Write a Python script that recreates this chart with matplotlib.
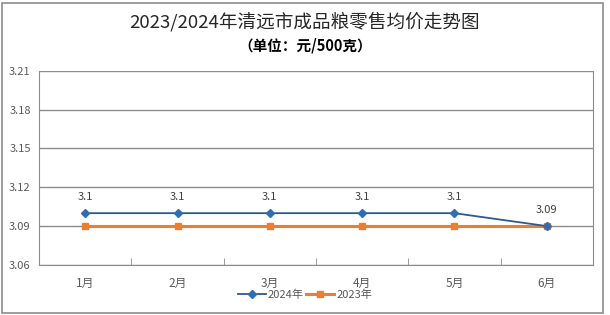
import matplotlib.pyplot as plt
from matplotlib.patches import Rectangle

plt.rcParams['font.family'] = ['Noto Sans CJK SC', 'DejaVu Sans']

months = ['1月', '2月', '3月', '4月', '5月', '6月']
price_2024 = [3.10, 3.10, 3.10, 3.10, 3.10, 3.09]
price_2023 = [3.09, 3.09, 3.09, 3.09, 3.09, 3.09]
yticks = [3.06, 3.09, 3.12, 3.15, 3.18, 3.21]

fig = plt.figure(figsize=(6.1, 3.15), dpi=100)
fig.patches.append(Rectangle((0.004, 0.006), 0.984, 0.986, transform=fig.transFigure,
                             fill=False, edgecolor='#8c8c8c', linewidth=1.2))
ax = fig.add_axes([0.064, 0.159, 0.908, 0.616])

x = list(range(len(months)))
ax.plot(x, price_2023, color='#ED7D31', linewidth=2.2, marker='s', markersize=5,
        label='2023年', zorder=2)
ax.plot(x, price_2024, color='#2A5A8E', linewidth=1.3, marker='D', markersize=4.5,
        markerfacecolor='#2F6EB5', markeredgecolor='#2F6EB5', label='2024年', zorder=3)

for i, v in enumerate(price_2024):
    ax.annotate(f'{v:g}', (i, v), xytext=(0, 8), textcoords='offset points',
                ha='center', va='bottom', fontsize=8, color='#404040')

ax.set_xlim(-0.5, len(months) - 0.5)
ax.set_ylim(3.06, 3.21)
ax.set_yticks(yticks)
ax.set_yticklabels([f'{t:.2f}' for t in yticks], fontsize=8, color='#595959')
ax.set_xticks(x)
ax.set_xticklabels(months, fontsize=8.5, color='#595959')
ax.tick_params(axis='x', length=0, pad=9)
ax.tick_params(axis='y', length=0, pad=6)
ax.set_xticks([i + 0.5 for i in range(len(months) - 1)], minor=True)
ax.tick_params(axis='x', which='minor', direction='in', length=5, color='#8c8c8c')
ax.grid(axis='y', color='#8c8c8c', linewidth=1)
ax.set_axisbelow(True)
for s in ['left', 'right', 'bottom']:
    ax.spines[s].set_color('#8c8c8c')
ax.spines['top'].set_visible(False)

h, l = ax.get_legend_handles_labels()
fig.legend(h[::-1], l[::-1], loc='center', bbox_to_anchor=(0.5, 0.063), ncol=2,
           frameon=False, fontsize=8, handlelength=2.5, columnspacing=0.2,
           handletextpad=0.2, labelcolor='#595959')

fig.text(0.5, 0.93, '2023/2024年清远市成品粮零售均价走势图', ha='center', va='center',
         fontsize=13.4, color='#262626')
fig.text(0.5, 0.857, '（单位：元/500克）', ha='center', va='center',
         fontsize=10.5, fontweight='bold', color='#000000')

fig.savefig('out.png', dpi=100)
